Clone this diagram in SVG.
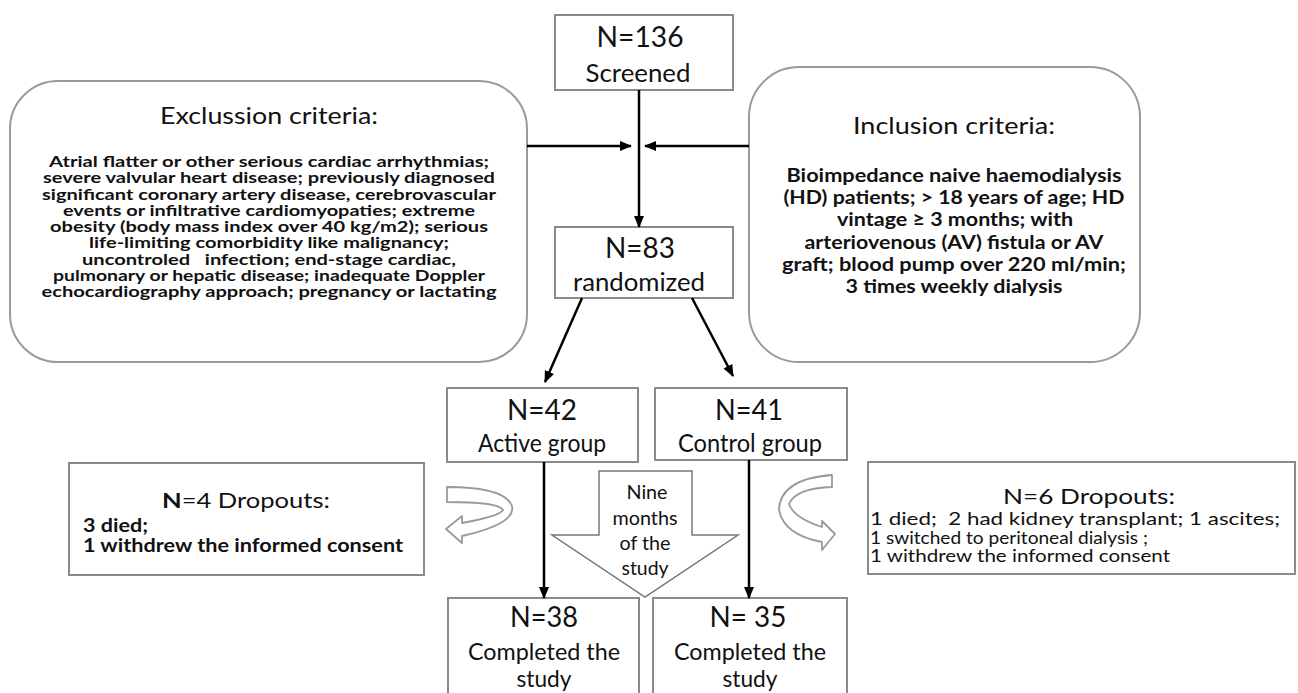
<svg xmlns="http://www.w3.org/2000/svg" width="1298" height="693" viewBox="0 0 1298 693">
<style>
text{font-family:Lato,"Liberation Sans",sans-serif;fill:#111;}
.box{fill:#fff;stroke:#8a8a8a;stroke-width:2;}
.rbox{fill:#fff;stroke:#9a9a9a;stroke-width:2;}
.big{font-size:28px;text-anchor:middle;}
.mid{font-size:25px;text-anchor:middle;}
.low{font-size:23px;text-anchor:middle;}
.title{font-size:24px;text-anchor:middle;}
.exc{font-size:15.5px;font-weight:bold;text-anchor:middle;}
.inc{font-size:19px;font-weight:bold;text-anchor:middle;}
.nine{font-size:20px;text-anchor:middle;}
.dl{font-size:18px;font-weight:bold;}
.dr{font-size:17.5px;}
.dt{font-size:21px;text-anchor:middle;}
.conn line{stroke:#000;stroke-width:2.5;marker-end:url(#ah);}
.curl{fill:#fff;stroke:#9a9a9a;stroke-width:1.8;stroke-linejoin:round;}
</style>
<defs>
<marker id="ah" viewBox="0 0 12 10" refX="11" refY="5" markerWidth="12" markerHeight="10" markerUnits="userSpaceOnUse" orient="auto"><path d="M0,0 L12,5 L0,10 Z" fill="#000"/></marker>
</defs>

<g id="exclusion">
<rect class="rbox" x="10" y="81" width="517" height="281" rx="48"/>
<text class="title" x="269" y="124" textLength="218" lengthAdjust="spacingAndGlyphs">Exclussion criteria:</text>
<text class="exc" x="269" y="167" textLength="440" lengthAdjust="spacingAndGlyphs">Atrial flatter or other serious cardiac arrhythmias;</text>
<text class="exc" x="269" y="183.3" textLength="452" lengthAdjust="spacingAndGlyphs">severe valvular heart disease; previously diagnosed</text>
<text class="exc" x="269" y="199.5" textLength="454" lengthAdjust="spacingAndGlyphs">significant coronary artery disease, cerebrovascular</text>
<text class="exc" x="269" y="215.8" textLength="412" lengthAdjust="spacingAndGlyphs">events or infiltrative cardiomyopaties; extreme</text>
<text class="exc" x="269" y="232" textLength="438" lengthAdjust="spacingAndGlyphs">obesity (body mass index over 40 kg/m2); serious</text>
<text class="exc" x="269" y="248.3" textLength="360" lengthAdjust="spacingAndGlyphs">life-limiting comorbidity like malignancy;</text>
<text class="exc" x="269" y="264.5" textLength="374" lengthAdjust="spacingAndGlyphs" xml:space="preserve">uncontroled   infection; end-stage cardiac,</text>
<text class="exc" x="269" y="280.8" textLength="432" lengthAdjust="spacingAndGlyphs">pulmonary or hepatic disease; inadequate Doppler</text>
<text class="exc" x="269" y="297" textLength="455" lengthAdjust="spacingAndGlyphs">echocardiography approach; pregnancy or lactating</text>
</g>

<g id="inclusion">
<rect class="rbox" x="749" y="67" width="391" height="295" rx="50"/>
<text class="title" x="954" y="134" textLength="202" lengthAdjust="spacingAndGlyphs">Inclusion criteria:</text>
<text class="inc" x="954" y="182" textLength="335" lengthAdjust="spacingAndGlyphs">Bioimpedance naive haemodialysis</text>
<text class="inc" x="954" y="204.2" textLength="341" lengthAdjust="spacingAndGlyphs">(HD) patients; &gt; 18 years of age; HD</text>
<text class="inc" x="955" y="226.4" textLength="236" lengthAdjust="spacingAndGlyphs">vintage ≥ 3 months; with</text>
<text class="inc" x="954" y="248.6" textLength="299" lengthAdjust="spacingAndGlyphs">arteriovenous (AV) fistula or AV</text>
<text class="inc" x="954" y="270.8" textLength="344" lengthAdjust="spacingAndGlyphs">graft; blood pump over 220 ml/min;</text>
<text class="inc" x="954" y="293" textLength="217" lengthAdjust="spacingAndGlyphs">3 times weekly dialysis</text>
</g>

<g id="screened">
<rect class="box" x="555" y="15" width="178" height="75"/>
<text class="big" x="640" y="47" textLength="87" lengthAdjust="spacingAndGlyphs">N=136</text>
<text class="mid" x="638" y="82" textLength="105" lengthAdjust="spacingAndGlyphs">Screened</text>
</g>

<g id="randomized">
<rect class="box" x="555" y="227" width="178" height="71"/>
<text class="big" x="640" y="258" textLength="70" lengthAdjust="spacingAndGlyphs">N=83</text>
<text class="mid" x="639" y="291" textLength="132" lengthAdjust="spacingAndGlyphs">randomized</text>
</g>

<g id="active">
<rect class="box" x="447" y="388" width="191" height="74"/>
<text class="big" x="542" y="420" textLength="70" lengthAdjust="spacingAndGlyphs">N=42</text>
<text class="mid" x="542" y="452" textLength="128" lengthAdjust="spacingAndGlyphs">Active group</text>
</g>

<g id="control">
<rect class="box" x="655" y="388" width="192" height="72"/>
<text class="big" x="749" y="420" textLength="68" lengthAdjust="spacingAndGlyphs">N=41</text>
<text class="mid" x="750" y="452" textLength="144" lengthAdjust="spacingAndGlyphs">Control group</text>
</g>

<g id="dropouts-left">
<rect class="box" x="69" y="463" width="355" height="112"/>
<text class="dt" x="246" y="508" textLength="168" lengthAdjust="spacingAndGlyphs"><tspan font-weight="bold">N</tspan>=4 Dropouts:</text>
<text class="dl" x="83" y="532" textLength="65" lengthAdjust="spacingAndGlyphs">3 died;</text>
<text class="dl" x="83" y="552" textLength="320" lengthAdjust="spacingAndGlyphs">1 withdrew the informed consent</text>
</g>

<g id="dropouts-right">
<rect class="box" x="868" y="462" width="427" height="112"/>
<text class="dt" x="1089" y="504" textLength="172" lengthAdjust="spacingAndGlyphs">N=6 Dropouts:</text>
<text class="dr" x="870" y="525" textLength="410" lengthAdjust="spacingAndGlyphs" xml:space="preserve">1 died;  2 had kidney transplant; 1 ascites;</text>
<text class="dr" x="870" y="543.5" textLength="278" lengthAdjust="spacingAndGlyphs">1 switched to peritoneal dialysis ;</text>
<text class="dr" x="870" y="562" textLength="300" lengthAdjust="spacingAndGlyphs">1 withdrew the informed consent</text>
</g>

<g id="nine-months">
<polygon points="599,471 692,471 692,535 738,535 645,597 552,535 599,535" fill="#fff" stroke="#777" stroke-width="1.5"/>
<text class="nine" x="647" y="499" textLength="41" lengthAdjust="spacingAndGlyphs">Nine</text>
<text class="nine" x="645" y="524.5" textLength="65" lengthAdjust="spacingAndGlyphs">months</text>
<text class="nine" x="645" y="550" textLength="51" lengthAdjust="spacingAndGlyphs">of the</text>
<text class="nine" x="645" y="575" textLength="47" lengthAdjust="spacingAndGlyphs">study</text>
</g>

<g id="completed-active">
<rect class="box" x="448" y="598" width="191" height="100"/>
<text class="big" x="544" y="627" textLength="68" lengthAdjust="spacingAndGlyphs">N=38</text>
<text class="low" x="544" y="660" textLength="152" lengthAdjust="spacingAndGlyphs">Completed the</text>
<text class="low" x="544" y="687" textLength="55" lengthAdjust="spacingAndGlyphs">study</text>
</g>

<g id="completed-control">
<rect class="box" x="653" y="598" width="194" height="100"/>
<text class="big" x="748" y="627" textLength="77" lengthAdjust="spacingAndGlyphs" xml:space="preserve">N= 35</text>
<text class="low" x="750" y="660" textLength="152" lengthAdjust="spacingAndGlyphs">Completed the</text>
<text class="low" x="750" y="687" textLength="55" lengthAdjust="spacingAndGlyphs">study</text>
</g>

<g id="curl-left">
<path class="curl" d="M447,487 Q505,487 512,506 Q516,524 462,536 L462,543 L446,529 L462,516 L462,523 Q500,516 503,510 Q499,502 447,502 Z"/>
</g>
<g id="curl-right">
<path class="curl" d="M832,475 L832,487 Q796,488 789,504 Q794,518 822,527 L822,521 L835,534 L822,550 L822,542 Q784,535 779,510 Q780,479 832,475 Z"/>
</g>

<g id="connectors" class="conn">
<line x1="639" y1="90" x2="639" y2="227"/>
<line x1="527" y1="146" x2="631" y2="146"/>
<line x1="749" y1="146" x2="645" y2="146"/>
<line x1="582" y1="298" x2="545" y2="382"/>
<line x1="692" y1="298" x2="733" y2="376"/>
<line x1="544" y1="462" x2="544" y2="598"/>
<line x1="749" y1="460" x2="749" y2="598"/>
</g>
</svg>
